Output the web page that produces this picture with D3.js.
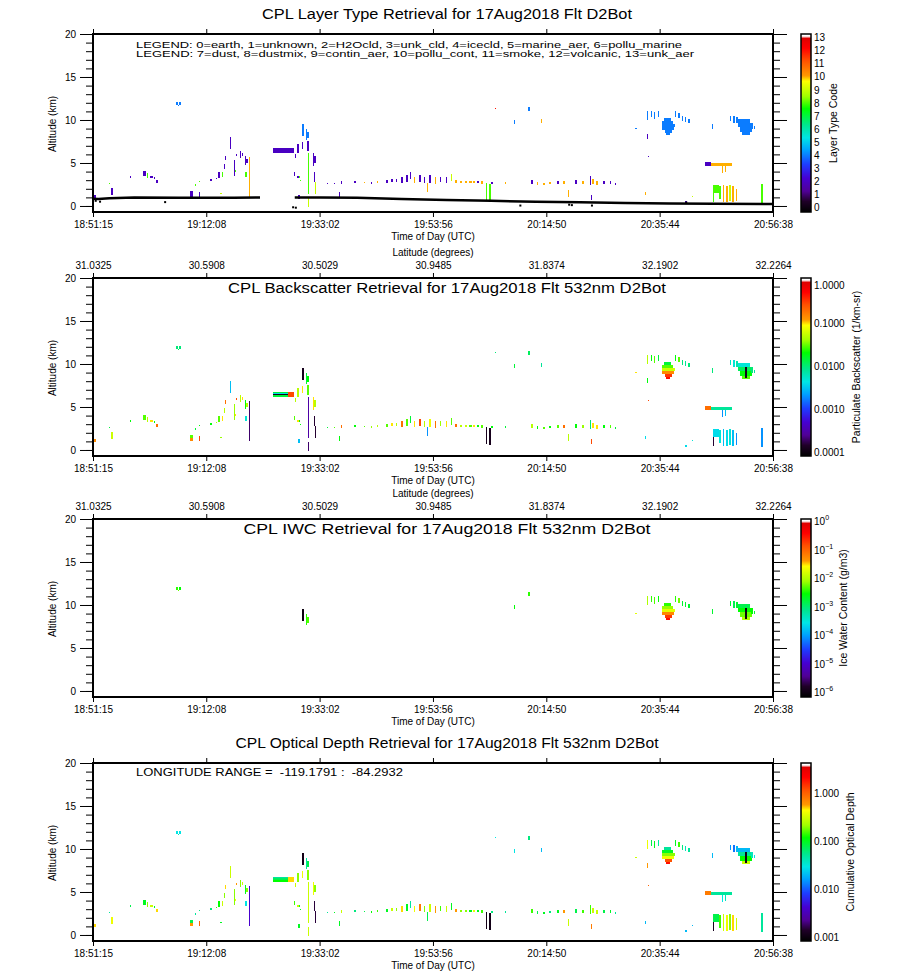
<!DOCTYPE html>
<html>
<head>
<meta charset="utf-8">
<script src="https://cdn.jsdelivr.net/npm/d3@7"></script>
<style>
  body { margin: 0; background: #fff; }
  text { font-family: "Liberation Sans", Arial, sans-serif; fill: #000; }
</style>
</head>
<body>
<svg id="chart" width="900" height="971"></svg>
<script>
// ---- data ----
const timeTicks = ["18:51:15", "19:12:08", "19:33:02", "19:53:56", "20:14:50", "20:35:44", "20:56:38"];
const latTicks = ["31.0325", "30.5908", "30.5029", "30.9485", "31.8374", "32.1902", "32.2264"];
const altMajor = [0, 5, 10, 15, 20];
const typeTicks = [0, 1, 2, 3, 4, 5, 6, 7, 8, 9, 10, 11, 12, 13];
const bscTicks = [0.0001, 0.001, 0.01, 0.1, 1];
const iwcExps = [-6, -5, -4, -3, -2, -1, 0];
const odTicks = [0.001, 0.01, 0.1, 1];
const legendLines = [
  "LEGEND: 0=earth, 1=unknown, 2=H2Ocld, 3=unk_cld, 4=icecld, 5=marine_aer, 6=pollu_marine",
  "LEGEND: 7=dust, 8=dustmix, 9=contin_aer, 10=pollu_cont, 11=smoke, 12=volcanic, 13=unk_aer"
];
const lonText = "LONGITUDE RANGE =  -119.1791 :  -84.2932";

// surface return (minutes after 18:51:15, km); null = no return
const surface = [[0, 0.85], [1, 0.8], [3, 0.9], [7.6, 1.0], [15.8, 0.95], [22, 0.95], [26, 0.95], [30.8, 1.0],
  [31, null], [37.2, 1.0], [42, 1.0], [48.7, 0.95], [56.9, 0.8], [65.2, 0.7], [73.4, 0.6], [81.6, 0.5],
  [89.8, 0.42], [98.1, 0.35], [106.3, 0.3], [114.5, 0.25], [125.3, 0.22]];
const groundDots = [[0.5, 0.6], [1.3, 0.5], [13.3, 0.45], [36.9, -0.15], [37.4, -0.2], [78.8, 0.05],
  [87.8, 0.15], [88.3, 0.1], [92.0, 0.05], [109.4, 0.4]];

// [start min, end min, base km, top km, type code, backscatter 1/km-sr, cumulative OD, IWC g/m3]
const layers = [
  [0.1, 0.5, 0.9, 1.3, 2, 0.15, 0.5],
  [2.9, 3.1, 2.55, 2.7, 8, 0.015, 0.05],
  [3.3, 3.6, 1.3, 2.1, 2, 0.06, 0.4],
  [6.8, 7.0, 3.3, 3.45, 2, 0.02, 0.08],
  [9.3, 9.7, 3.5, 4.1, 2, 0.03, 0.1],
  [9.9, 10.2, 3.3, 3.8, 8, 0.05, 0.2],
  [10.5, 11.0, 3.2, 3.5, 2, 0.1, 0.3],
  [11.2, 11.4, 3.1, 3.4, 2, 0.02, 0.1],
  [11.6, 11.9, 2.7, 3.0, 2, 0.2, 0.5],
  [15.3, 15.6, 11.7, 12.15, 4, 0.01, 0.03, 0.004],
  [15.6, 15.9, 11.6, 11.8, 4, 0.012, 0.04, 0.006],
  [15.9, 16.2, 11.7, 12.1, 4, 0.01, 0.03, 0.003],
  [17.8, 18.5, 1.45, 1.8, 2, 0.03, 0.08],
  [17.8, 18.5, 1.1, 1.45, 2, 0.15, 0.6],
  [18.85, 19.0, 2.35, 2.5, 8, 0.015, 0.05],
  [19.6, 19.75, 2.75, 2.9, 8, 0.02, 0.06],
  [19.6, 19.8, 1.1, 1.6, 2, 0.3, 1.0],
  [21.6, 21.9, 2.9, 3.1, 2, 0.02, 0.06],
  [22.7, 22.9, 3.1, 3.3, 2, 0.05, 0.15],
  [23.1, 23.4, 3.3, 4.0, 2, 0.03, 0.12],
  [23.7, 24.0, 3.4, 3.9, 8, 0.1, 0.3],
  [23.5, 23.7, 1.35, 1.5, 9, 0.04, 0.1],
  [24.1, 24.3, 4.3, 4.9, 2, 0.05, 0.2],
  [24.3, 24.5, 5.3, 5.8, 2, 0.2, 0.5],
  [25.2, 25.45, 6.6, 8.05, 2, 0.003, 0.3],
  [26.0, 26.2, 3.5, 5.3, 2, 0.04, 0.2],
  [26.2, 26.4, 3.9, 4.2, 8, 0.1, 0.4],
  [26.4, 26.6, 5.8, 6.0, 2, 0.3, 0.6],
  [27.1, 27.3, 5.6, 6.4, 2, 0.05, 0.2],
  [27.5, 27.7, 5.8, 6.2, 2, 0.1, 0.3],
  [28.0, 28.2, 4.8, 5.8, 2, 0.02, 0.1],
  [28.3, 28.5, 5.0, 5.5, 2, 0.05, 0.2],
  [28.1, 28.4, 3.4, 4.0, 8, 0.005, 0.03],
  [28.75, 29.0, 1.07, 5.7, 10, 0.0002, 0.004],
  // thick layer before 19:33
  [33.2, 36.0, 6.65, 6.8, 2, 0.015, 0.05],
  [33.2, 36.0, 6.55, 6.65, 2, 0.004, 0.07],
  [33.2, 36.0, 6.45, 6.55, 2, 0.00012, 0.08],
  [33.2, 36.0, 6.35, 6.45, 2, 0.004, 0.1],
  [33.2, 36.0, 6.2, 6.35, 2, 0.015, 0.12],
  [36.0, 37.0, 6.2, 6.8, 2, 0.3, 0.5],
  // cluster near 19:33
  [37.3, 37.5, 5.6, 6.0, 2, 0.05, 0.3],
  [37.0, 37.3, 3.5, 3.9, 2, 0.03, 0.15],
  [37.6, 37.9, 3.2, 3.5, 2, 0.1, 0.3],
  [37.9, 38.1, 3.3, 3.45, 8, 0.02, 0.1],
  [38.1, 38.3, 2.85, 3.0, 8, 0.02, 0.1],
  [37.8, 38.1, 0.8, 1.3, 2, 0.003, 0.1],
  [38.6, 38.85, 8.1, 9.5, 4, 0.00012, 0.0011, 0.000001],
  [39.2, 39.4, 7.7, 8.9, 4, 0.015, 0.05, 0.004],
  [39.55, 39.8, 7.9, 8.6, 4, 0.02, 0.08, 0.005],
  [39.45, 39.8, 6.4, 7.6, 2, 0.03, 0.2],
  [38.6, 38.8, 6.6, 7.4, 2, 0.1, 0.4],
  [37.7, 37.9, 6.2, 7.2, 2, 0.05, 0.2],
  [39.6, 39.85, 1.45, 6.2, 8, 0.0003, 0.3],
  [39.6, 39.8, -0.1, 0.9, 9, 0.0002, 0.3],
  [40.5, 40.7, 4.7, 6.2, 2, 0.1, 0.4],
  [40.8, 41.1, 5.0, 5.8, 2, 0.05, 0.2],
  [40.8, 41.0, 2.8, 3.9, 2, 0.00015, 0.0015],
  [40.85, 41.05, 1.45, 2.8, 9, 0.00015, 0.0015],
  [45.3, 45.6, 1.1, 1.6, 2, 0.02, 0.1],
  // mid-level aerosol / cloud layer
  [43.2, 43.4, 2.56, 2.71, 2, 0.015, 0.05],
  [44.4, 44.6, 2.56, 2.71, 2, 0.03, 0.1],
  [45.7, 46.0, 2.56, 2.9, 2, 0.2, 0.3],
  [48.2, 48.5, 2.71, 2.94, 2, 0.02, 0.06],
  [49.9, 50.1, 2.63, 2.79, 10, 0.03, 0.08],
  [51.2, 51.4, 2.6, 2.82, 2, 0.04, 0.12],
  [52.3, 52.6, 2.67, 2.86, 10, 0.05, 0.15],
  [54.1, 54.3, 2.71, 3.02, 2, 0.03, 0.1],
  [55.0, 55.3, 2.79, 3.09, 2, 0.1, 0.3],
  [55.8, 56.1, 2.79, 3.17, 2, 0.05, 0.2],
  [56.8, 57.1, 2.71, 3.32, 2, 0.2, 0.5],
  [57.8, 58.0, 2.79, 3.63, 2, 0.03, 0.1],
  [58.4, 58.6, 3.09, 3.93, 2, 0.015, 0.05],
  [59.1, 59.4, 2.71, 3.4, 10, 0.1, 0.4],
  [60.1, 60.4, 2.79, 3.55, 2, 0.3, 0.8],
  [61.1, 61.3, 2.71, 3.32, 2, 0.05, 0.2],
  [61.6, 61.8, 1.64, 2.71, 10, 0.002, 0.08],
  [62.0, 62.3, 2.71, 3.55, 2, 0.08, 0.3],
  [63.0, 63.3, 2.56, 3.32, 10, 0.2, 0.6],
  [64.0, 64.2, 2.79, 3.32, 2, 0.04, 0.15],
  [65.0, 65.3, 2.71, 3.4, 2, 0.1, 0.3],
  [66.0, 66.2, 2.94, 3.7, 9, 0.03, 0.1],
  [66.8, 67.2, 2.63, 2.98, 10, 0.2, 0.6],
  [67.6, 68.0, 2.63, 2.9, 10, 0.05, 0.2],
  [68.5, 68.9, 2.63, 2.94, 10, 0.06, 0.2],
  [69.3, 69.8, 2.63, 2.9, 10, 0.03, 0.1],
  [70.1, 70.5, 2.63, 2.86, 10, 0.1, 0.4],
  [70.8, 71.1, 2.63, 2.86, 2, 0.02, 0.1],
  [71.5, 71.9, 2.56, 2.86, 10, 0.03, 0.15],
  [72.5, 72.7, 0.69, 2.71, 8, 0.00012, 0.0011],
  [73.1, 73.3, 0.57, 2.56, 8, 0.00012, 0.0011],
  [73.4, 73.7, 2.56, 2.79, 2, 0.02, 0.06],
  [75.9, 76.1, 2.6, 2.79, 10, 0.015, 0.05],
  [80.8, 81.1, 2.56, 2.98, 2, 0.05, 0.15],
  [81.8, 82.1, 2.48, 2.79, 10, 0.02, 0.08],
  [83.0, 83.3, 2.48, 2.71, 10, 0.03, 0.1],
  [84.1, 84.4, 2.52, 2.75, 10, 0.02, 0.06],
  [85.6, 85.9, 2.56, 2.86, 2, 0.03, 0.1],
  [86.7, 87.0, 2.56, 2.9, 10, 0.2, 0.6],
  [87.5, 87.7, 1.07, 1.83, 10, 0.05, 0.3],
  [88.9, 89.2, 2.6, 2.98, 2, 0.02, 0.08],
  [90.2, 90.5, 2.56, 2.94, 10, 0.04, 0.15],
  [91.6, 91.9, 2.4, 3.47, 2, 0.01, 0.15],
  [92.1, 92.3, 2.6, 3.1, 10, 0.1, 0.3],
  [91.8, 92.1, 0.69, 1.26, 2, 0.3, 0.8],
  [92.8, 93.1, 2.48, 2.94, 10, 0.1, 0.3],
  [94.1, 94.4, 2.56, 2.86, 2, 0.02, 0.08],
  [95.3, 95.6, 2.56, 2.86, 2, 0.03, 0.1],
  [96.3, 96.5, 2.48, 2.71, 2, 0.015, 0.05],
  // isolated upper features
  [74.1, 74.3, 11.3, 11.45, 12, 0.01, 0.03],
  [80.3, 80.6, 11.0, 11.5, 4, 0.012, 0.06, 0.004],
  [77.6, 77.85, 9.5, 10.0, 4, 0.015, 0.03, 0.003],
  [82.6, 82.8, 9.7, 10.1, 10, 0.008, 0.02],
  // ice cloud near 20:35
  [102.1, 102.3, 10.0, 11.1, 4, 0.05, 0.4, 0.01],
  [102.8, 103.0, 10.3, 11.0, 4, 0.02, 0.08, 0.004],
  [103.5, 103.7, 10.1, 10.9, 4, 0.03, 0.1, 0.005],
  [104.2, 104.4, 10.4, 11.0, 4, 0.015, 0.05, 0.003],
  [105.3, 106.6, 9.9, 10.25, 4, 0.015, 0.05, 0.004],
  [105.0, 107.0, 9.5, 9.9, 4, 0.03, 0.1, 0.008],
  [104.9, 107.3, 9.2, 9.5, 4, 0.06, 0.2, 0.02],
  [105.0, 107.1, 8.8, 9.2, 4, 0.15, 0.4, 0.06],
  [105.4, 106.7, 8.45, 8.8, 4, 0.35, 1.2, 0.2],
  [105.6, 106.4, 8.3, 8.45, 4, 0.5, 2.0, 0.35],
  [107.3, 107.5, 10.3, 11.0, 4, 0.02, 0.1, 0.004],
  [107.9, 108.2, 10.2, 10.8, 4, 0.03, 0.15, 0.006],
  [108.6, 108.8, 9.9, 10.5, 4, 0.01, 0.06, 0.002],
  [109.2, 109.4, 9.8, 10.3, 4, 0.008, 0.04, 0.002],
  [109.8, 110.0, 9.7, 10.1, 4, 0.01, 0.05, 0.002],
  [100.0, 100.3, 8.9, 9.1, 4, 0.1, 0.3, 0.02],
  [102.1, 102.3, 7.75, 8.4, 2, 0.02, 0.6],
  [102.3, 102.6, 5.7, 5.85, 2, 0.3, 1.0],
  [101.7, 101.9, 1.3, 1.6, 10, 0.004, 0.02],
  // ice cloud near 20:50
  [114.2, 114.4, 9.0, 9.5, 4, 0.01, 0.02, 0.002],
  [117.4, 117.7, 9.9, 10.45, 4, 0.006, 0.015, 0.002],
  [118.0, 118.3, 9.7, 10.5, 4, 0.005, 0.012, 0.0015],
  [118.6, 119.0, 9.6, 10.4, 4, 0.007, 0.02, 0.002],
  [119.0, 121.2, 9.6, 10.1, 4, 0.005, 0.02, 0.0015],
  [119.0, 121.4, 9.2, 9.6, 4, 0.012, 0.05, 0.003],
  [119.3, 121.5, 8.6, 9.2, 4, 0.02, 0.12, 0.006],
  [119.6, 121.1, 8.3, 8.6, 4, 0.03, 0.3, 0.01],
  [121.4, 121.7, 9.0, 9.7, 4, 0.01, 0.04, 0.003],
  [121.8, 122.1, 9.0, 9.3, 4, 0.008, 0.03, 0.002],
  [120.2, 120.5, 8.4, 9.6, 4, 0.00012, 0.0011, 0.000001],
  // lower layers at the end of the flight
  [112.9, 113.9, 4.6, 5.1, 2, 0.2, 0.8],
  [113.9, 117.8, 4.6, 5.0, 10, 0.008, 0.05],
  [116.0, 116.2, 3.8, 4.6, 10, 0.002, 0.03],
  [116.6, 116.8, 4.0, 4.6, 10, 0.003, 0.04],
  [114.3, 115.4, 1.5, 2.4, 8, 0.004, 0.08],
  [114.3, 114.5, 0.5, 1.5, 8, 0.00015, 0.0012],
  [115.5, 115.8, 0.8, 2.3, 8, 0.005, 0.15],
  [116.1, 116.4, 0.5, 2.4, 10, 0.003, 0.3],
  [116.8, 117.1, 0.5, 2.3, 10, 0.004, 0.4],
  [117.3, 117.6, 0.6, 2.4, 9, 0.005, 0.2],
  [117.9, 118.2, 0.5, 2.3, 10, 0.003, 0.5],
  [118.5, 118.8, 0.6, 2.0, 10, 0.002, 0.3],
  [123.1, 123.6, 0.3, 2.6, 8, 0.002, 0.05],
  [109.2, 109.6, 0.3, 0.6, 2, 0.004, 0.02],
  [110.4, 110.6, 1.0, 1.15, 9, 0.005, 0.02]
];

// ---- colour table (IDL rainbow + white) ----
const rainbowStops = [
  [0.0, "#000000"], [0.06, "#200028"], [0.117, "#500096"], [0.19, "#4600d2"], [0.267, "#1e3cff"],
  [0.346, "#00a0ff"], [0.417, "#00e6e6"], [0.49, "#00e68c"], [0.58, "#00ff00"], [0.65, "#a0ff00"],
  [0.735, "#ffff00"], [0.765, "#ff9a00"], [0.85, "#ff5000"], [0.92, "#ff0000"], [0.975, "#e00000"],
  [0.988, "#ffffff"], [1.0, "#ffffff"]
];
const rainbow = d3.scaleLinear()
  .domain(rainbowStops.map(d => d[0]))
  .range(rainbowStops.map(d => d[1]))
  .interpolate(d3.interpolateRgb)
  .clamp(true);

const secs = s => { const p = s.split(":").map(Number); return p[0] * 3600 + p[1] * 60 + p[2]; };
const tickMins = timeTicks.map(s => (secs(s) - secs(timeTicks[0])) / 60);

const svg = d3.select("#chart");
const x = d3.scaleLinear().domain([0, tickMins[tickMins.length - 1]]).range([93, 773]);
const plotH = 178;

const panels = [
  {top: 34, field: 4, filter: d => true, tpos: d3.scaleLinear().domain([0, 13]).range([0.024, 0.979]),
   title: "CPL Layer Type Retrieval for 17Aug2018 Flt D2Bot", titleY: 19, titleLen: 370,
   cbTitle: "Layer Type Code", cbX: 833, lat: false},
  {top: 278, field: 5, filter: d => true, tpos: d3.scaleLog().domain([1e-4, 1]).range([0.022, 0.983]),
   title: "CPL Backscatter Retrieval for 17Aug2018 Flt 532nm D2Bot", titleY: 293, titleLen: 438,
   cbTitle: "Particulate Backscatter (1/km-sr)", cbX: 856, lat: true},
  {top: 519, field: 7, filter: d => d[7] != null, tpos: d3.scaleLog().domain([1e-6, 1]).range([0.022, 0.983]),
   title: "CPL IWC Retrieval for 17Aug2018 Flt 532nm D2Bot", titleY: 534, titleLen: 407,
   cbTitle: "Ice Water Content (g/m3)", cbX: 843, lat: true},
  {top: 763, field: 6, filter: d => true, tpos: d3.scaleLog().domain([0.001, 1]).range([0.022, 0.827]),
   title: "CPL Optical Depth Retrieval for 17Aug2018 Flt 532nm D2Bot", titleY: 748, titleLen: 423,
   cbTitle: "Cumulative Optical Depth", cbX: 850, lat: false}
];

panels.forEach(function (p, pi) {
  const y = d3.scaleLinear().domain([-0.7, 20]).range([p.top + plotH, p.top]);
  const g = svg.append("g");

  // data cells
  g.append("g").selectAll("rect")
    .data(layers.filter(p.filter))
    .join("rect")
    .attr("x", d => x(d[0]))
    .attr("y", d => y(d[3]))
    .attr("width", d => Math.max(1.1, x(d[1]) - x(d[0])))
    .attr("height", d => Math.max(1, y(d[2]) - y(d[3])))
    .attr("shape-rendering", "crispEdges")
    .attr("fill", d => rainbow(p.tpos(d[p.field])));

  if (pi === 0) {
    g.append("path")
      .datum(surface)
      .attr("fill", "none")
      .attr("stroke", "#000")
      .attr("stroke-width", 2.5)
      .attr("d", d3.line().defined(d => d[1] != null).x(d => x(d[0])).y(d => y(d[1])));
    g.append("g").selectAll("rect")
      .data(groundDots)
      .join("rect")
      .attr("x", d => x(d[0]) - 1)
      .attr("y", d => y(d[1]) - 1)
      .attr("width", 2).attr("height", 2)
      .attr("fill", "#000");
    legendLines.forEach(function (t, i) {
      g.append("text").attr("x", 136).attr("y", 47.5 + i * 9.5)
        .attr("font-size", 9).attr("textLength", i ? 558 : 546)
        .attr("lengthAdjust", "spacingAndGlyphs").text(t);
    });
  }
  if (pi === 3) {
    g.append("text").attr("x", 136).attr("y", 776)
      .attr("font-size", 10).attr("textLength", 267)
      .attr("lengthAdjust", "spacingAndGlyphs")
      .style("white-space", "pre").text(lonText);
  }

  // axes
  const axes = g.append("g").attr("font-size", 10);
  axes.append("g").attr("transform", "translate(93,0)")
    .call(d3.axisLeft(y).tickValues(altMajor).tickSize(13).tickPadding(4));
  axes.append("g").attr("transform", "translate(93,0)")
    .call(d3.axisLeft(y).tickValues(d3.range(0, 21)).tickSize(7).tickFormat(""));
  axes.append("g").attr("transform", "translate(773,0)")
    .call(d3.axisRight(y).tickValues(altMajor).tickSize(14).tickFormat(""));
  axes.append("g").attr("transform", "translate(773,0)")
    .call(d3.axisRight(y).tickValues(d3.range(0, 21)).tickSize(7).tickFormat(""));
  axes.append("g").attr("transform", "translate(0," + (p.top + plotH) + ")")
    .call(d3.axisBottom(x).tickValues(tickMins).tickSize(5).tickPadding(3.5)
      .tickFormat((d, i) => timeTicks[i]));
  axes.append("g").attr("transform", "translate(0," + p.top + ")")
    .call(d3.axisTop(x).tickValues(tickMins).tickSize(5).tickPadding(4)
      .tickFormat((d, i) => p.lat ? latTicks[i] : ""));
  axes.selectAll(".domain").remove();
  axes.selectAll("text").attr("font-family", "Liberation Sans, Arial, sans-serif");

  g.append("rect")
    .attr("x", 93).attr("y", p.top).attr("width", 680).attr("height", plotH)
    .attr("fill", "none").attr("stroke", "#000").attr("stroke-width", 2);

  g.append("text")
    .attr("transform", "translate(52," + (p.top + 90) + ") rotate(-90)")
    .attr("text-anchor", "middle").attr("dominant-baseline", "central")
    .attr("font-size", 10).text("Altitude (km)");
  g.append("text")
    .attr("x", 433).attr("y", p.top + plotH + 28)
    .attr("text-anchor", "middle").attr("font-size", 10).text("Time of Day (UTC)");
  if (p.lat) {
    g.append("text")
      .attr("x", 433).attr("y", p.top - 22)
      .attr("text-anchor", "middle").attr("font-size", 10).text("Latitude (degrees)");
  }
  g.append("text")
    .attr("x", 447).attr("y", p.titleY)
    .attr("text-anchor", "middle").attr("font-size", 14)
    .attr("textLength", p.titleLen).attr("lengthAdjust", "spacingAndGlyphs")
    .text(p.title);

  // colour bar
  const cb = g.append("g");
  const barTop = p.top, barBot = p.top + plotH;
  cb.selectAll("rect")
    .data(d3.range(barTop, barBot))
    .join("rect")
    .attr("x", 801).attr("y", d => d).attr("width", 10).attr("height", 1)
    .attr("shape-rendering", "crispEdges")
    .attr("fill", d => rainbow((barBot - d - 0.5) / plotH));
  cb.append("rect")
    .attr("x", 801).attr("y", barTop).attr("width", 10).attr("height", plotH)
    .attr("fill", "none").attr("stroke", "#000").attr("stroke-width", 1.5);

  const labY = v => barBot - p.tpos(v) * plotH;
  if (pi === 0) {
    cb.selectAll("text.lab").data(typeTicks).join("text").attr("class", "lab")
      .attr("x", 814).attr("y", d => labY(d)).attr("dominant-baseline", "central")
      .attr("font-size", 10).text(d => d);
  } else if (pi === 1) {
    cb.selectAll("text.lab").data(bscTicks).join("text").attr("class", "lab")
      .attr("x", 814).attr("y", d => Math.max(labY(d), barTop + 7)).attr("dominant-baseline", "central")
      .attr("font-size", 10).text(d => d.toFixed(4));
  } else if (pi === 2) {
    const t = cb.selectAll("text.lab").data(iwcExps).join("text").attr("class", "lab")
      .attr("x", 814).attr("y", d => labY(Math.pow(10, d)) + 3).attr("font-size", 10);
    t.append("tspan").text("10");
    t.append("tspan").attr("dy", -5).attr("font-size", 7).text(d => d === 0 ? "0" : "\u2212" + (-d));
  } else {
    cb.selectAll("text.lab").data(odTicks).join("text").attr("class", "lab")
      .attr("x", 814).attr("y", d => labY(d)).attr("dominant-baseline", "central")
      .attr("font-size", 10).text(d => d.toFixed(3));
  }
  cb.append("text")
    .attr("transform", "translate(" + p.cbX + "," + (p.top + plotH / 2) + ") rotate(-90)")
    .attr("text-anchor", "middle").attr("dominant-baseline", "central")
    .attr("font-size", 10.5).text(p.cbTitle);
});
</script>
</body>
</html>
